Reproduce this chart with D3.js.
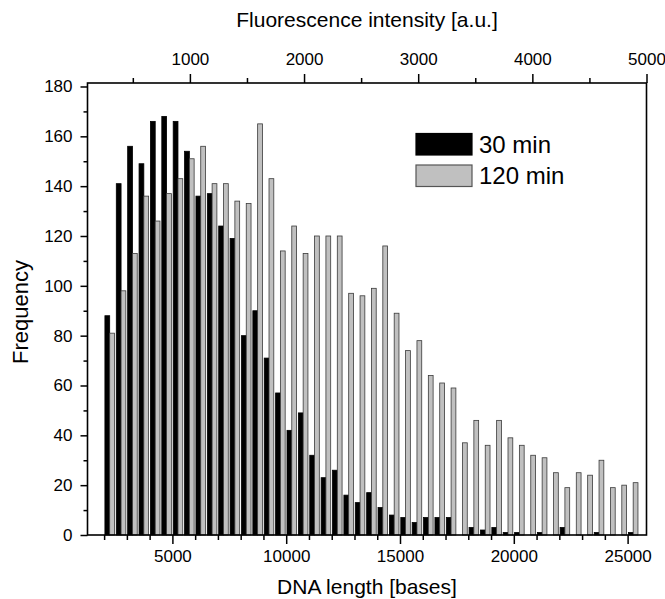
<!DOCTYPE html>
<html>
<head>
<meta charset="utf-8">
<script src="https://cdn.jsdelivr.net/npm/d3@7"></script>
<style>
  body { margin: 0; background: #fff; }
  text { font-family: "Liberation Sans", Arial, sans-serif; fill: #000; }
</style>
</head>
<body>
<svg width="665" height="599"></svg>
<script>
// bin start (bases), 500 bp bins
const binStart = [2000, 2500, 3000, 3500, 4000, 4500, 5000, 5500, 6000, 6500,
  7000, 7500, 8000, 8500, 9000, 9500, 10000, 10500, 11000, 11500,
  12000, 12500, 13000, 13500, 14000, 14500, 15000, 15500, 16000, 16500,
  17000, 17500, 18000, 18500, 19000, 19500, 20000, 20500, 21000, 21500,
  22000, 22500, 23000, 23500, 24000, 24500, 25000];

const min30 = [88, 141, 156, 149, 166, 168, 166, 154, 136, 137,
  124, 119, 80, 90, 71, 57, 42, 49, 32, 23,
  26, 16, 13, 17, 11, 8, 7, 5, 7, 7,
  7, 0, 3, 2, 3, 1, 1, 0, 1, 0,
  3, 0, 0, 1, 0, 0, 1];

const min120 = [81, 98, 113, 136, 126, 137, 143, 151, 156, 141,
  141, 134, 133, 165, 143, 114, 124, 113, 120, 120,
  120, 97, 96, 99, 116, 89, 74, 78, 64, 61,
  59, 37, 46, 36, 46, 39, 36, 32, 31, 25,
  19, 25, 24, 30, 19, 20, 21];

const seriesNames = ["30 min", "120 min"];
const seriesFill = ["#000000", "#c0c0c0"];
const seriesStroke = ["#000000", "#3a3a3a"];

const lengthTicks = [5000, 10000, 15000, 20000, 25000];
const lengthMinor = [2000, 3000, 4000, 6000, 7000, 8000, 9000, 11000, 12000, 13000, 14000,
  16000, 17000, 18000, 19000, 21000, 22000, 23000, 24000];
const intensityTicks = [1000, 2000, 3000, 4000, 5000];
const intensityMinor = [500, 1500, 2500, 3500, 4500];
const freqTicks = [0, 20, 40, 60, 80, 100, 120, 140, 160, 180];
const freqMinor = [10, 30, 50, 70, 90, 110, 130, 150, 170];

const svg = d3.select("svg");
const plotL = 87.5, plotR = 646.5, plotT = 83, plotB = 535;

const x = d3.scaleLinear().domain([1270, 25830]).range([plotL, plotR]);
const xTop = d3.scaleLinear().domain([103, 5000]).range([plotL, plotR]);
const y = d3.scaleLinear().domain([0, 181.4]).range([plotB, plotT]);
const fmt = d3.format("d");

// bars: two per bin, black first then grey
const bars = [];
binStart.forEach((s, i) => {
  bars.push({ s: 0, start: s + 35, end: s + 245, v: min30[i] });
  bars.push({ s: 1, start: s + 245, end: s + 455, v: min120[i] });
});

svg.append("g")
  .selectAll("rect")
  .data(bars.filter(d => d.v > 0))
  .enter()
  .append("rect")
  .attr("x", d => x(d.start))
  .attr("width", d => x(d.end) - x(d.start))
  .attr("y", d => y(d.v))
  .attr("height", d => y(0) - y(d.v))
  .attr("fill", d => seriesFill[d.s])
  .attr("stroke", d => seriesStroke[d.s])
  .attr("stroke-width", 0.8);

// axes
const styleAxis = g => {
  g.select(".domain").remove();
  g.selectAll("line").attr("stroke", "#000").attr("stroke-width", 1.5);
  g.selectAll("text").attr("font-size", 17).attr("font-family", "Liberation Sans, Arial, sans-serif");
};

svg.append("g")
  .attr("transform", `translate(0,${plotB})`)
  .call(d3.axisBottom(x).tickValues(lengthTicks).tickFormat(fmt).tickSize(9).tickPadding(6))
  .call(styleAxis);
svg.append("g")
  .attr("transform", `translate(0,${plotB})`)
  .call(d3.axisBottom(x).tickValues(lengthMinor).tickSize(5).tickFormat(""))
  .call(styleAxis);

svg.append("g")
  .attr("transform", `translate(0,${plotT})`)
  .call(d3.axisTop(xTop).tickValues(intensityTicks).tickFormat(fmt).tickSize(9).tickPadding(9))
  .call(styleAxis);
svg.append("g")
  .attr("transform", `translate(0,${plotT})`)
  .call(d3.axisTop(xTop).tickValues(intensityMinor).tickSize(5).tickFormat(""))
  .call(styleAxis);

svg.append("g")
  .attr("transform", `translate(${plotL},0)`)
  .call(d3.axisLeft(y).tickValues(freqTicks).tickFormat(fmt).tickSize(7).tickPadding(8))
  .call(styleAxis);
svg.append("g")
  .attr("transform", `translate(${plotL},0)`)
  .call(d3.axisLeft(y).tickValues(freqMinor).tickSize(4).tickFormat(""))
  .call(styleAxis);

// frame
svg.append("rect")
  .attr("x", plotL).attr("y", plotT)
  .attr("width", plotR - plotL).attr("height", plotB - plotT)
  .attr("fill", "none").attr("stroke", "#000").attr("stroke-width", 1.6);

// titles
svg.append("text")
  .attr("x", 367).attr("y", 594)
  .attr("text-anchor", "middle").attr("font-size", 21)
  .text("DNA length [bases]");
svg.append("text")
  .attr("x", 367).attr("y", 27)
  .attr("text-anchor", "middle").attr("font-size", 21)
  .text("Fluorescence intensity [a.u.]");
svg.append("text")
  .attr("transform", "translate(28,312) rotate(-90)")
  .attr("text-anchor", "middle").attr("font-size", 22)
  .text("Frequency");

// legend
const legend = svg.append("g");
seriesNames.forEach((name, i) => {
  legend.append("rect")
    .attr("x", 416).attr("y", 133.5 + i * 31.5)
    .attr("width", 56).attr("height", 21.5)
    .attr("fill", seriesFill[i])
    .attr("stroke", i ? "#555" : "#000")
    .attr("stroke-width", 1.2);
  legend.append("text")
    .attr("x", 479).attr("y", 153 + i * 30.5)
    .attr("font-size", 24)
    .text(name);
});
</script>
</body>
</html>
